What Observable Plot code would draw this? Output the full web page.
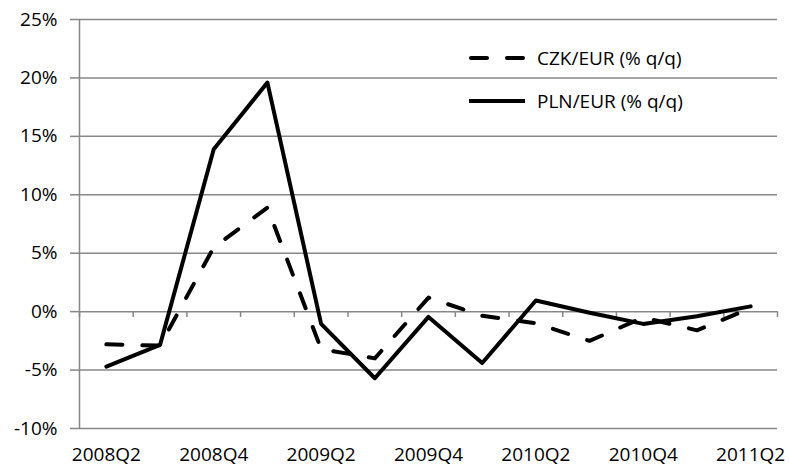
<!DOCTYPE html>
<html><head><meta charset="utf-8">
<script src="https://cdn.jsdelivr.net/npm/d3@7"></script>
<script src="https://cdn.jsdelivr.net/npm/@observablehq/plot@0.6"></script>
<style>
body{margin:0;background:#fff}
#wrap{position:relative;width:789px;height:468px;overflow:hidden}
.lg{position:absolute;left:467px;display:flex;align-items:center;font-family:"Open Sans";font-size:19px;color:#000;white-space:nowrap;line-height:1}
.lg svg{margin-right:12px}
</style></head><body><div id="wrap"></div>
<script>
const quarters = ["2008Q2","2008Q3","2008Q4","2009Q1","2009Q2","2009Q3","2009Q4","2010Q1","2010Q2","2010Q3","2010Q4","2011Q1","2011Q2"];
const czk = [-2.8, -2.9, 5.5, 8.9, -3.2, -4.0, 1.2, -0.35, -1.0, -2.5, -0.5, -1.6, 0.3];
const pln = [-4.7, -2.85, 13.9, 19.6, -1.05, -5.7, -0.45, -4.4, 0.95, -0.1, -1.05, -0.4, 0.45];
const yTicks = [-10, -5, 0, 5, 10, 15, 20, 25];
const xLabelIdx = [0, 2, 4, 6, 8, 10, 12];
const seriesNames = ["CZK/EUR (% q/q)", "PLN/EUR (% q/q)"];

const rows = [];
quarters.forEach((q, i) => {
  rows.push({i, q, v: czk[i], s: seriesNames[0]});
  rows.push({i, q, v: pln[i], s: seriesNames[1]});
});
const boundaries = quarters.map((q, i) => i - 0.5).concat([quarters.length - 0.5]);
const grid = "#878787";

const chart = Plot.plot({
  width: 789, height: 468,
  marginLeft: 79, marginRight: 12, marginTop: 19, marginBottom: 40,
  style: {fontFamily: '"Open Sans"', fontSize: "19px", color: "#000", background: "#fff", overflow: "visible"},
  x: {type: "linear", domain: [-0.5, quarters.length - 0.5]},
  y: {domain: [-10, 25]},
  marks: [
    Plot.ruleY(yTicks, {stroke: grid, strokeWidth: 1.5}),
    Plot.ruleX(boundaries, {y1: 0, y2: -0.5, stroke: grid, strokeWidth: 1.5}),
    Plot.axisY({ticks: yTicks, tickFormat: d => d + "%", tickSize: 9, tickPadding: 13, stroke: grid, strokeWidth: 1.5, label: null}),
    Plot.ruleX([-0.5], {stroke: grid, strokeWidth: 1.5}),
    Plot.axisX({ticks: xLabelIdx, tickFormat: i => quarters[i], tickSize: 0, tickPadding: 19, label: null}),
    Plot.line(rows.filter(d => d.s === seriesNames[0]), {x: "i", y: "v", stroke: "#000", strokeWidth: 4, strokeDasharray: "16,20", strokeLinecap: "round", strokeLinejoin: "round"}),
    Plot.line(rows.filter(d => d.s === seriesNames[1]), {x: "i", y: "v", stroke: "#000", strokeWidth: 4, strokeLinejoin: "round"})
  ]
});
const wrap = document.getElementById("wrap");
wrap.appendChild(chart);

const legendTops = [48, 91];
seriesNames.forEach((name, k) => {
  const div = document.createElement("div");
  div.className = "lg";
  div.style.top = legendTops[k] + "px";
  const dash = k === 0 ? 'stroke-dasharray="16,20" stroke-linecap="round"' : 'stroke-linecap="butt"';
  const x1 = k === 0 ? 4 : 2;
  const x2 = k === 0 ? 56 : 58;
  div.innerHTML = `<svg width="58" height="20"><line x1="${x1}" y1="10" x2="${x2}" y2="10" stroke="#000" stroke-width="4" ${dash}/></svg><span>${name}</span>`;
  wrap.appendChild(div);
});
</script></body></html>
